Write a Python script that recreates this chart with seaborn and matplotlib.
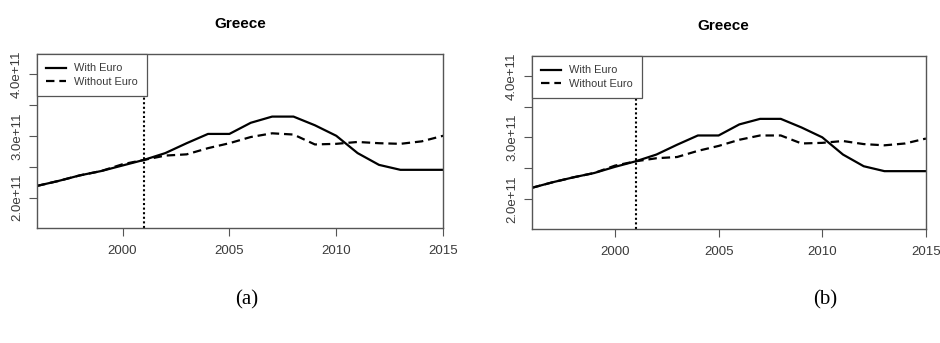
import numpy as np
import pandas as pd
import matplotlib
matplotlib.use("Agg")
import matplotlib.pyplot as plt
import seaborn as sns

# ---- data ----
years = list(range(1996, 2016))

# panel (a)
with_euro_a = [2.19, 2.27, 2.36, 2.43, 2.52, 2.61, 2.72, 2.88, 3.03, 3.03,
               3.21, 3.31, 3.31, 3.17, 3.00, 2.72, 2.53, 2.45, 2.45, 2.45]
without_euro_a = [2.19, 2.27, 2.36, 2.43, 2.54, 2.61, 2.68, 2.70, 2.80, 2.88,
                  2.98, 3.04, 3.02, 2.86, 2.87, 2.90, 2.88, 2.87, 2.91, 3.00]

# panel (b)
with_euro_b = [2.18, 2.27, 2.35, 2.42, 2.52, 2.61, 2.72, 2.88, 3.03, 3.03,
               3.21, 3.30, 3.30, 3.16, 3.00, 2.72, 2.53, 2.45, 2.45, 2.45]
without_euro_b = [2.18, 2.27, 2.35, 2.42, 2.54, 2.61, 2.66, 2.68, 2.78, 2.86,
                  2.96, 3.03, 3.03, 2.90, 2.91, 2.94, 2.89, 2.87, 2.90, 2.98]

series_names = ["With Euro", "Without Euro"]
panel_titles = ["Greece", "Greece"]
panel_labels = ["(a)", "(b)"]
euro_year = 2001
ytick_vals = [2.0e11, 2.5e11, 3.0e11, 3.5e11, 4.0e11]
ytick_text = ["2.0e+11", "", "3.0e+11", "", "4.0e+11"]
xtick_vals = [2000, 2005, 2010, 2015]

# ---- style ----
plt.rcParams['font.family'] = ['Liberation Sans', 'DejaVu Sans']
GRAY = '#555555'
TXT = '#3a3a3a'
DASH = (3.8, 2.2)


def make_df(w, wo):
    return pd.DataFrame({
        "year": years * 2,
        "value": np.array(w + wo) * 1e11,
        "series": [series_names[0]] * len(years) + [series_names[1]] * len(years),
    })


fig = plt.figure(figsize=(9.4, 3.43), dpi=100)
axes = [fig.add_axes([0.0394, 0.3353, 0.432, 0.507]),
        fig.add_axes([0.566, 0.3324, 0.419, 0.504])]
data = [(with_euro_a, without_euro_a), (with_euro_b, without_euro_b)]
label_x = [247 / 940, 825 / 940]
title_x = [0.5, 0.485]

for i, ax in enumerate(axes):
    df = make_df(*data[i])
    sns.lineplot(data=df, x="year", y="value", style="series",
                 dashes={series_names[0]: "", series_names[1]: DASH},
                 color="black", linewidth=1.6, ax=ax, legend=False)
    ax.axvline(euro_year, color="black", linestyle=(0, (1, 1.2)), linewidth=1.5)

    ax.set_xlim(1996, 2015)
    ax.set_ylim(1.51e11, 4.32e11)
    ax.set_xticks(xtick_vals)
    ax.set_xticklabels([str(x) for x in xtick_vals], fontsize=9.5)
    ax.set_yticks(ytick_vals)
    ax.set_yticklabels(ytick_text, fontsize=9.5, rotation=90, va="center")
    ax.tick_params(colors=GRAY, labelcolor=TXT, length=6, width=0.8)
    ax.tick_params(axis='x', pad=6)
    ax.tick_params(axis='y', pad=4)
    for sp in ax.spines.values():
        sp.set_color(GRAY)
        sp.set_linewidth(1.0)
    ax.set_xlabel("")
    ax.set_ylabel("")
    ax.set_title(panel_titles[i], fontsize=11, fontweight="bold", pad=19, x=title_x[i])

    handles = [plt.Line2D([0], [0], color="black", linewidth=1.6),
               plt.Line2D([0], [0], color="black", linewidth=1.6, dashes=DASH)]
    leg = ax.legend(handles, series_names, loc="upper left", fontsize=7.9,
                    frameon=True, fancybox=False, framealpha=1, edgecolor=GRAY,
                    borderaxespad=0, handlelength=1.8, labelspacing=0.3,
                    borderpad=0.85, handletextpad=0.75)
    leg.get_frame().set_linewidth(0.9)
    for t in leg.get_texts():
        t.set_color(TXT)

    fig.text(label_x[i], 1 - 300 / 343, panel_labels[i], fontsize=15,
             family=['Liberation Serif', 'DejaVu Serif'], ha="center", va="center")

fig.savefig("out.png", dpi=100)
